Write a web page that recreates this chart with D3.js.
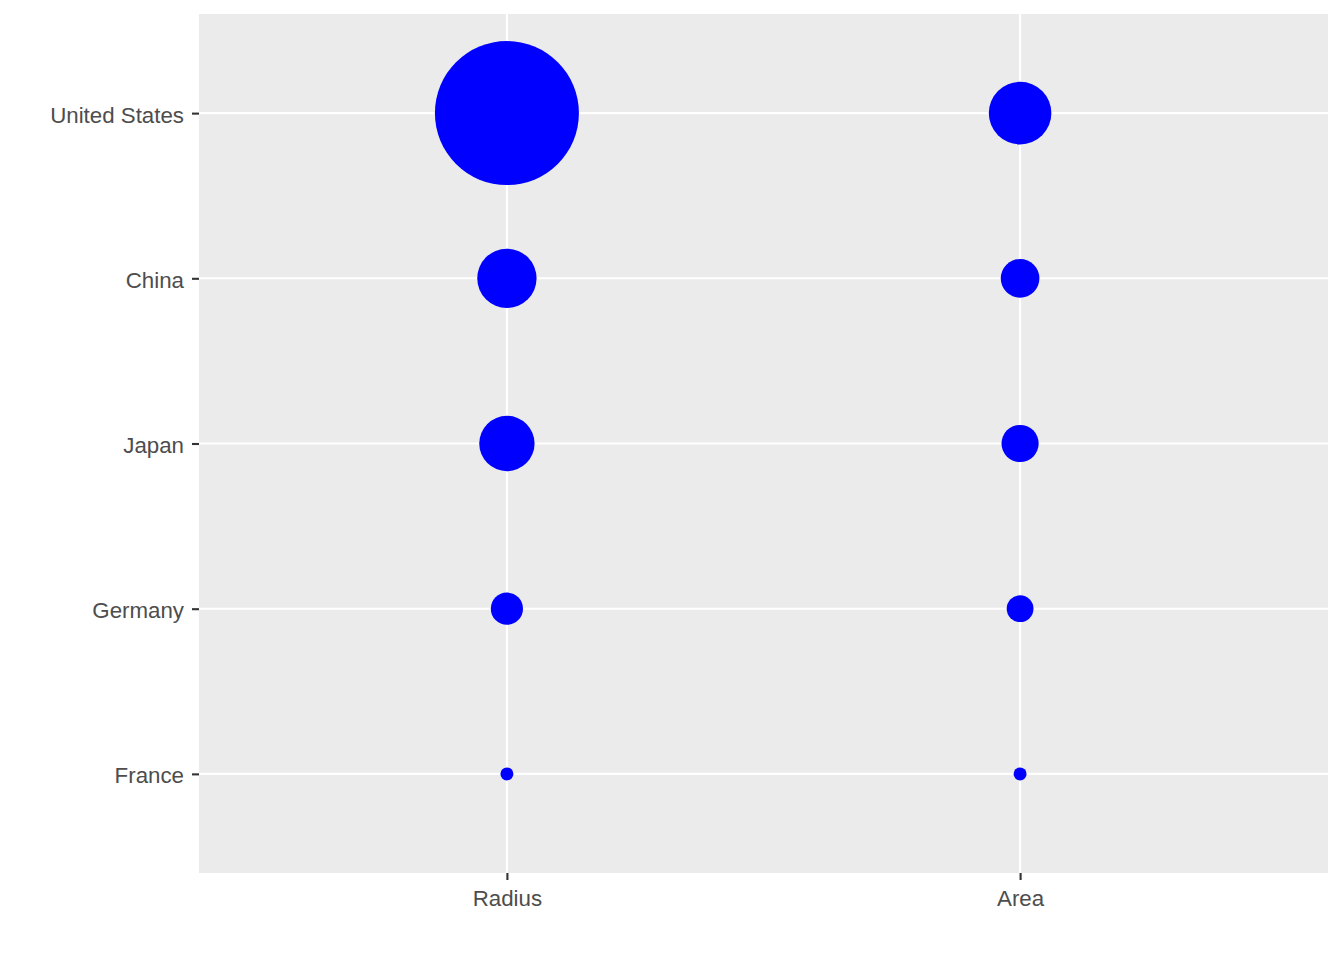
<!DOCTYPE html>
<html>
<head>
<meta charset="utf-8">
<script src="https://cdn.jsdelivr.net/npm/d3@7"></script>
<style>
  body { margin: 0; background: #fff; }
  text { font-family: "Liberation Sans", Arial, sans-serif; }
</style>
</head>
<body>
<svg></svg>
<script>
const countries = ['United States', 'China', 'Japan', 'Germany', 'France']
const methods = ['Radius', 'Area']
// one value per country (relative units)
const values = [100, 36, 33, 15.5, 1]

const W = 1344, H = 960
const panel = { left: 199, right: 1328, top: 14, bottom: 873 }

const svg = d3.select('svg')
    .attr('width', W)
    .attr('height', H)

const x = d3.scalePoint()
    .domain(methods)
    .range([panel.left, panel.right])
    .padding(0.6)

const y = d3.scalePoint()
    .domain(countries)
    .range([panel.top, panel.bottom])
    .padding(0.6)

const ext = d3.extent(values)
const rRadius = d3.scaleLinear().domain(ext).range([6.5, 72])
const rArea = d3.scaleRadial().domain(ext).range([6.5, 31.3])

svg.append('rect')
    .attr('x', panel.left)
    .attr('y', panel.top)
    .attr('width', panel.right - panel.left)
    .attr('height', panel.bottom - panel.top)
    .attr('fill', '#EBEBEB')

// grid
svg.append('g')
    .selectAll('line')
    .data(countries)
    .enter()
    .append('line')
    .attr('x1', panel.left).attr('x2', panel.right)
    .attr('y1', d => y(d)).attr('y2', d => y(d))
    .attr('stroke', '#fff').attr('stroke-width', 2.1)

svg.append('g')
    .selectAll('line')
    .data(methods)
    .enter()
    .append('line')
    .attr('y1', panel.top).attr('y2', panel.bottom)
    .attr('x1', d => x(d)).attr('x2', d => x(d))
    .attr('stroke', '#fff').attr('stroke-width', 2.1)

// points
const pts = []
countries.forEach((c, i) => {
    pts.push({ country: c, method: 'Radius', r: rRadius(values[i]) })
    pts.push({ country: c, method: 'Area', r: rArea(values[i]) })
})

svg.append('g')
    .selectAll('circle')
    .data(pts)
    .enter()
    .append('circle')
    .attr('cx', d => x(d.method))
    .attr('cy', d => y(d.country))
    .attr('r', d => d.r)
    .attr('fill', '#0000FF')

// axes
const yAxis = svg.append('g')
    .attr('transform', `translate(${panel.left},0)`)
    .call(d3.axisLeft(y).tickSize(7).tickPadding(8))
const xAxis = svg.append('g')
    .attr('transform', `translate(0,${panel.bottom})`)
    .call(d3.axisBottom(x).tickSize(7).tickPadding(9))

for (const ax of [xAxis, yAxis]) {
    ax.select('.domain').remove()
    ax.selectAll('line').attr('stroke', '#333333').attr('stroke-width', 2.1)
    ax.selectAll('text')
        .attr('fill', '#4D4D4D')
        .style('font-size', '22.3px')
}
yAxis.selectAll('text').attr('dy', '0.4em')
xAxis.selectAll('text').attr('dy', '0.75em')
</script>
</body>
</html>
